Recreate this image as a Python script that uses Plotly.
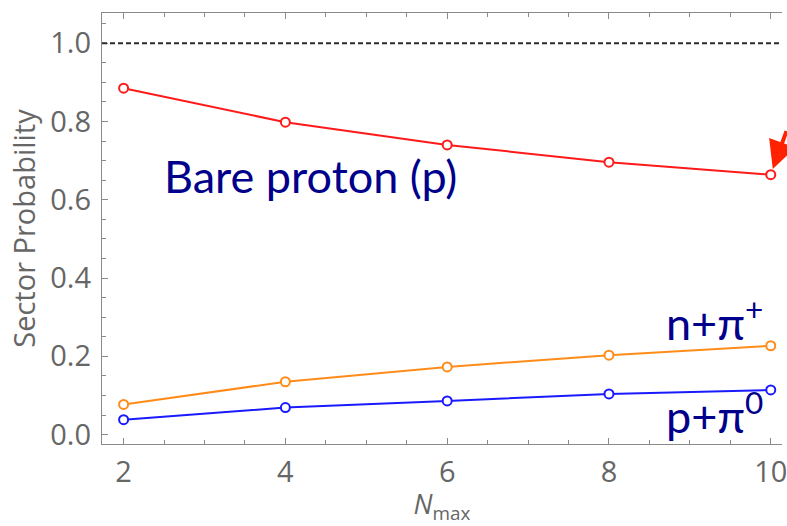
import plotly.graph_objects as go

nmax = [2, 4, 6, 8, 10]
bare_proton = [0.885, 0.798, 0.740, 0.696, 0.664]
n_pi_plus = [0.077, 0.135, 0.173, 0.203, 0.227]
p_pi_zero = [0.038, 0.069, 0.086, 0.104, 0.114]
ref_level = 1.0

x_ticks = [2, 4, 6, 8, 10]
y_ticks = [0.0, 0.2, 0.4, 0.6, 0.8, 1.0]

fig = go.Figure()

def add_series(y, color):
    fig.add_trace(go.Scatter(
        x=nmax, y=y, mode="lines+markers",
        line=dict(color=color, width=2),
        marker=dict(symbol="circle", size=9, color="white",
                    line=dict(color=color, width=2)),
        showlegend=False, cliponaxis=False,
    ))

add_series(bare_proton, "#ff1a1a")
add_series(n_pi_plus, "#ff8c1a")
add_series(p_pi_zero, "#1a1aff")

fig.add_shape(type="line", xref="paper", yref="y", x0=0, x1=1,
              y0=ref_level, y1=ref_level,
              line=dict(color="#2a2a2a", width=2, dash="5px,3px"))

navy = "#00008b"
afont = dict(family="Lato", size=45, color=navy)
fig.add_annotation(x=2.47, y=0.66, xref="x", yref="y", text="Bare proton (p)",
                   showarrow=False, xanchor="left", yanchor="middle", font=afont)
fig.add_annotation(x=8.68, y=0.293, xref="x", yref="y", text="n+π<sup>+</sup>",
                   showarrow=False, xanchor="left", yanchor="middle", font=afont)
fig.add_annotation(x=8.68, y=0.055, xref="x", yref="y", text="p+π<sup>0</sup>",
                   showarrow=False, xanchor="left", yanchor="middle", font=afont)

# red arrow pointing to the last bare-proton point
fig.add_annotation(x=nmax[-1], y=bare_proton[-1], xref="x", yref="y", text="",
                   showarrow=True, arrowhead=2, arrowsize=1.4, arrowwidth=4,
                   arrowcolor="#ff2200", ax=30, ay=-45, standoff=6)

tick_font = dict(family="Open Sans", size=29, color="#666666")
frame = "#8a8a8a"

fig.update_layout(
    width=787, height=526,
    margin=dict(l=102, r=0, t=13, b=82),
    paper_bgcolor="white", plot_bgcolor="white",
    xaxis=dict(
        range=[1.733, 10.139], tickvals=x_ticks, ticktext=[str(v) for v in x_ticks],
        ticks="inside", ticklen=6, tickwidth=1.2, tickcolor=frame,
        showline=True, linecolor=frame, linewidth=1.4, mirror="ticks",
        showgrid=False, zeroline=False, tickfont=tick_font,
        ticklabelstandoff=2, ticklabeloverflow="allow",
        minor=dict(dtick=0.5, ticks="inside", ticklen=4, tickcolor=frame, tickwidth=1,
                   showgrid=False),
        title=dict(text="<i>N</i><sub>max</sub>", font=dict(family="Open Sans", size=27, color="#666666"),
                   standoff=0),
    ),
    yaxis=dict(
        range=[-0.024, 1.077], tickvals=y_ticks, tickformat=".1f",
        ticks="inside", ticklen=6, tickwidth=1.2, tickcolor=frame,
        showline=True, linecolor=frame, linewidth=1.4, mirror=False,
        showgrid=False, zeroline=False, tickfont=tick_font,
        ticklabelstandoff=4,
        minor=dict(dtick=0.05, tick0=0, ticks="inside", ticklen=4, tickcolor=frame, tickwidth=1,
                   showgrid=False),
        title=dict(text="Sector Probability", font=dict(family="Open Sans", size=29, color="#666666"),
                   standoff=6),
    ),
)

fig.write_html("out.html")
